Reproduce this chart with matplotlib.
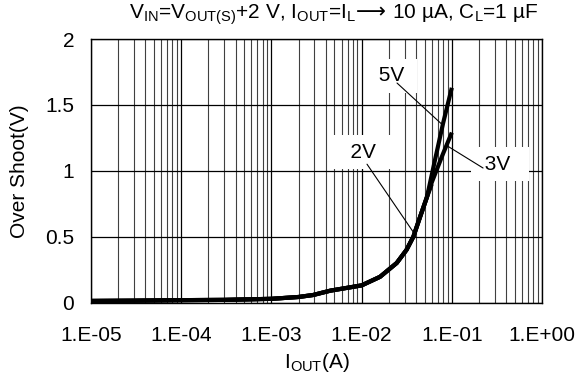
import matplotlib
matplotlib.use("Agg")
import matplotlib.pyplot as plt
from matplotlib.ticker import LogLocator, NullFormatter, FixedLocator

plt.rcParams['font.family'] = ['Liberation Sans', 'DejaVu Sans']
plt.rcParams['mathtext.fontset'] = 'custom'
plt.rcParams['mathtext.rm'] = 'Liberation Sans'
plt.rcParams['mathtext.sf'] = 'DejaVu Sans'
plt.rcParams['mathtext.fallback'] = 'stixsans'

# shared low-current part of the curves (A, V)
iout_common = [1.0e-5, 3.0e-5, 1.0e-4, 3.0e-4, 1.0e-3, 2.0e-3, 2.9e-3, 4.5e-3,
               1.0e-2, 1.6e-2, 2.45e-2, 3.15e-2, 3.75e-2, 4.45e-2, 5.3e-2]
os_common = [0.012, 0.014, 0.018, 0.020, 0.028, 0.042, 0.057, 0.090,
             0.130, 0.195, 0.300, 0.400, 0.500, 0.650, 0.800]

# upper branches
iout_5v = [6.5e-2, 8.0e-2, 1.0e-1]
os_5v = [1.08, 1.36, 1.63]
iout_3v = [5.75e-2, 8.0e-2, 1.0e-1]
os_3v = [0.88, 1.13, 1.29]
iout_2v = [6.0e-2]
os_2v = [0.90]

xticks = [1e-5, 1e-4, 1e-3, 1e-2, 1e-1, 1e0]
xtick_labels = ['1.E-05', '1.E-04', '1.E-03', '1.E-02', '1.E-01', '1.E+00']
yticks = [0, 0.5, 1, 1.5, 2]
ytick_labels = ['0', '0.5', '1', '1.5', '2']

fig = plt.figure(figsize=(5.81, 3.79), dpi=100)
ax = fig.add_axes([0.1566, 0.2018, 0.7763, 0.6952])

for xs, ys in [(iout_2v, os_2v), (iout_3v, os_3v), (iout_5v, os_5v)]:
    ax.plot(iout_common + xs, os_common + ys, color='black', lw=3.0,
            solid_capstyle='butt', zorder=5)

ax.set_xscale('log')
ax.set_xlim(1e-5, 1e0)
ax.set_ylim(0, 2)
ax.set_xticks(xticks)
ax.set_xticklabels(xtick_labels)
ax.xaxis.set_minor_locator(LogLocator(base=10, subs=range(2, 10), numticks=20))
ax.xaxis.set_minor_formatter(NullFormatter())
ax.yaxis.set_major_locator(FixedLocator(yticks))
ax.set_yticklabels(ytick_labels)
ax.tick_params(axis='both', which='both', length=0, labelsize=15)
ax.tick_params(axis='x', pad=17)
ax.tick_params(axis='y', pad=12)

ax.grid(True, which='major', color='black', lw=0.9, zorder=1)
ax.grid(True, which='minor', axis='x', color='0.25', lw=0.8, zorder=1)
for s in ax.spines.values():
    s.set_linewidth(1.0)
    s.set_color('black')

ax.set_xlabel(r'I$_{\mathregular{OUT}}$(A)', fontsize=15, labelpad=4)
ax.set_ylabel('Over Shoot(V)', fontsize=15, labelpad=12)
fig.text(0.927, 0.962,
         r'V$_{\mathregular{IN}}$=V$_{\mathregular{OUT(S)}}$+2 V, '
         r'I$_{\mathregular{OUT}}$=I$_{\mathregular{L}}$$\!\mathsf{\longrightarrow}\!$ 10 µA, '
         r'C$_{\mathregular{L}}$=1 µF',
         ha='right', va='center', fontsize=15)

# curve labels on white boxes, with thin leader lines
box = dict(boxstyle='square,pad=0.36', fc='white', ec='none')
lead = dict(arrowstyle='-', color='black', lw=0.8, shrinkA=0, shrinkB=0)
ax.text(0.0212, 1.72, ' 5V ', fontsize=15, ha='center', va='center',
        bbox=box, zorder=3)
ax.text(0.01037, 1.142, '  2V  ', fontsize=15, ha='center', va='center',
        bbox=box, zorder=3)
ax.text(0.342, 1.051, ' 3V  ', fontsize=15, ha='center', va='center',
        bbox=box, zorder=3)
ax.annotate('', xy=(0.0785, 1.35), xytext=(0.0247, 1.666),
            arrowprops=lead, zorder=4)
ax.annotate('', xy=(0.0378, 0.53), xytext=(0.01148, 1.05),
            arrowprops=lead, zorder=4)
ax.annotate('', xy=(0.0885, 1.19), xytext=(0.222, 1.021),
            arrowprops=lead, zorder=4)

fig.savefig('out.png', dpi=100)
